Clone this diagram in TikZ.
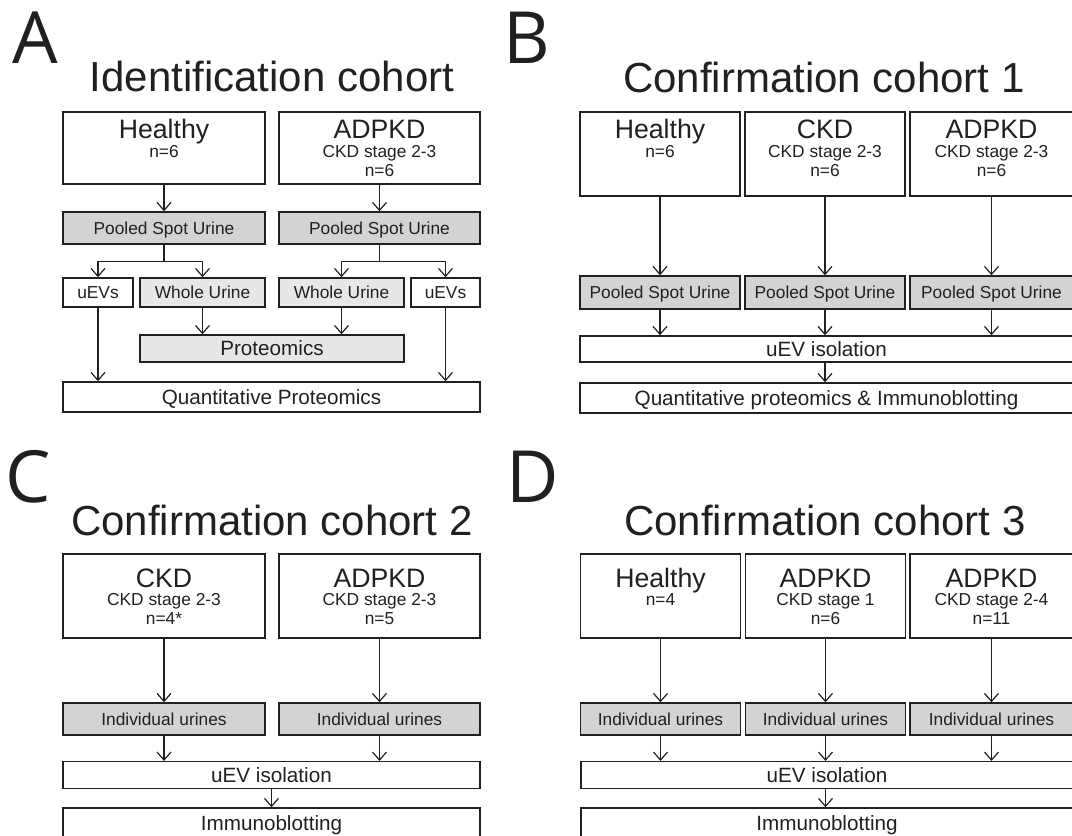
\documentclass[tikz,border=0pt]{standalone}
\usepackage{fontspec}
\setmainfont{Liberation Sans}
\newfontfamily\letterfont{Open Sans}
\usetikzlibrary{arrows.meta}

\definecolor{ink}{HTML}{231F20}
\definecolor{pooledgray}{HTML}{D1D3D4}
\definecolor{wholegray}{HTML}{E6E7E8}
\newcommand{\grouplines}[2]{\begin{tabular}[t]{@{}c@{}}{\fontsize{20}{14}\selectfont #1}\\#2\end{tabular}}

\begin{document}
\begin{tikzpicture}[x=0.75pt,y=-0.75pt,
    box/.style={draw=ink, line width=1.1pt, inner sep=0pt, text=ink,
      font=\fontsize{13}{14}\selectfont, text height=9.3pt, text depth=0pt},
    darkbox/.style={box, fill=pooledgray},
    lightbox/.style={box, fill=wholegray},
    bigtxt/.style={font=\fontsize{15.5}{18}\selectfont, text height=11.1pt},
    headtxt/.style={anchor=base, inner sep=0pt, text=ink,
      font=\fontsize{13}{14}\selectfont},
    title/.style={anchor=base, inner sep=0pt, text=ink,
      font=\fontsize{31.5}{36}\selectfont},
    panel/.style={anchor=base west, inner sep=0pt, text=ink,
      font=\letterfont\fontsize{54}{60}\selectfont},
    arr/.style={draw=ink, line width=0.9pt, -{Straight Barb[length=6pt,width=10.5pt]}},
    line/.style={draw=ink, line width=0.9pt}]

    \useasboundingbox (0,0) rectangle (1072,836);
    \clip (0,0) rectangle (1072,836);

    %panel A
    \node[panel] (lA) at (12,63) {A};
    \node[title] (tA) at (272,91) {Identification cohort};

    \node[box, minimum width=151.5pt, minimum height=54pt] (hA) at (164,148) {};
    \node[box, minimum width=150.75pt, minimum height=54pt] (aA) at (379.5,148) {};
    \node[headtxt] (hAt) at ([yshift=-20.6pt]hA.north) {\grouplines{Healthy}{n=6}};
    \node[headtxt] (aAt) at ([yshift=-20.6pt]aA.north) {\grouplines{ADPKD}{CKD stage 2-3\\n=6}};

    \node[darkbox, minimum width=151.5pt, minimum height=24pt] (psA1) at (164,228) {Pooled Spot Urine};
    \node[darkbox, minimum width=150.75pt, minimum height=24pt] (psA2) at (379.5,228) {Pooled Spot Urine};

    \node[box, minimum width=52.5pt, minimum height=21.75pt] (evA1) at (98,292.5) {uEVs};
    \node[lightbox, minimum width=93.75pt, minimum height=21.75pt] (wuA1) at (202.5,292.5) {Whole Urine};
    \node[lightbox, minimum width=93.75pt, minimum height=21.75pt] (wuA2) at (341.5,292.5) {Whole Urine};
    \node[box, minimum width=51.75pt, minimum height=21.75pt] (evA2) at (445.5,292.5) {uEVs};

    \node[lightbox, bigtxt, minimum width=198pt, minimum height=20.25pt] (prA) at (272,348.5) {Proteomics};
    \node[box, bigtxt, minimum width=312.75pt, minimum height=22.5pt] (qpA) at (271.5,397) {Quantitative Proteomics};

    \draw[arr] (hA.south) -- (psA1.north);
    \draw[arr] (aA.south) -- (psA2.north);
    \draw[line] (psA1.south) -- ++(0,17) coordinate (sA1);
    \draw[line] (psA2.south) -- ++(0,17) coordinate (sA2);
    \draw[arr] (sA1) -| (evA1.north);
    \draw[arr] (sA1) -| (wuA1.north);
    \draw[arr] (sA2) -| (wuA2.north);
    \draw[arr] (sA2) -| (evA2.north);
    \draw[arr] (wuA1.south) -- (wuA1.south |- prA.north);
    \draw[arr] (wuA2.south) -- (wuA2.south |- prA.north);
    \draw[arr] (evA1.south) -- (evA1.south |- qpA.north);
    \draw[arr] (evA2.south) -- (evA2.south |- qpA.north);

    %panel B
    \node[panel] (lB) at (503,63) {B};
    \node[title] (tB) at (824,92) {Confirmation cohort 1};

    \node[box, minimum width=120pt, minimum height=63pt] (hB) at (660,154) {};
    \node[box, minimum width=120pt, minimum height=63pt] (cB) at (825,154) {};
    \node[box, minimum width=122.25pt, minimum height=63pt] (aB) at (991.5,154) {};
    \node[headtxt] (hBt) at ([yshift=-20.6pt]hB.north) {\grouplines{Healthy}{n=6}};
    \node[headtxt] (cBt) at ([yshift=-20.6pt]cB.north) {\grouplines{CKD}{CKD stage 2-3\\n=6}};
    \node[headtxt] (aBt) at ([yshift=-20.6pt]aB.north) {\grouplines{ADPKD}{CKD stage 2-3\\n=6}};

    \node[darkbox, minimum width=120pt, minimum height=24.75pt] (psB1) at (660,292.5) {Pooled Spot Urine};
    \node[darkbox, minimum width=120pt, minimum height=24.75pt] (psB2) at (825,292.5) {Pooled Spot Urine};
    \node[darkbox, minimum width=122.25pt, minimum height=24.75pt] (psB3) at (991.5,292.5) {Pooled Spot Urine};

    \node[box, bigtxt, minimum width=369.75pt, minimum height=19.5pt] (evB) at (826.5,349) {uEV isolation};
    \node[box, bigtxt, minimum width=369.75pt, minimum height=22.5pt] (qpB) at (826.5,398) {Quantitative proteomics \& Immunoblotting};

    \draw[arr] (hB.south) -- (psB1.north);
    \draw[arr] (cB.south) -- (psB2.north);
    \draw[arr] (aB.south) -- (psB3.north);
    \draw[arr] (psB1.south) -- (psB1.south |- evB.north);
    \draw[arr] (psB2.south) -- (psB2.south |- evB.north);
    \draw[arr] (psB3.south) -- (psB3.south |- evB.north);
    \draw[arr] (psB2 |- evB.south) -- (psB2 |- qpB.north);

    %panel C
    \node[panel] (lC) at (5,502) {C};
    \node[title] (tC) at (272,535) {Confirmation cohort 2};

    \node[box, minimum width=151.5pt, minimum height=63pt] (cC) at (164,596) {};
    \node[box, minimum width=150.75pt, minimum height=63pt] (aC) at (379.5,596) {};
    \node[headtxt] (cCt) at ([yshift=-25.5pt]cC.north) {\grouplines{CKD}{CKD stage 2-3\\n=4*}};
    \node[headtxt] (aCt) at ([yshift=-25.5pt]aC.north) {\grouplines{ADPKD}{CKD stage 2-3\\n=5}};

    \node[darkbox, minimum width=151.5pt, minimum height=24pt] (iuC1) at (164,719) {Individual urines};
    \node[darkbox, minimum width=150.75pt, minimum height=24pt] (iuC2) at (379.5,719) {Individual urines};

    \node[box, bigtxt, minimum width=312.75pt, minimum height=20pt] (evC) at (271.5,775) {uEV isolation};
    \node[box, bigtxt, minimum width=312.75pt, minimum height=22.5pt] (imC) at (271.5,823) {Immunoblotting};

    \draw[arr] (cC.south) -- (iuC1.north);
    \draw[arr] (aC.south) -- (iuC2.north);
    \draw[arr] (iuC1.south) -- (iuC1.south |- evC.north);
    \draw[arr] (iuC2.south) -- (iuC2.south |- evC.north);
    \draw[arr] (evC.south) -- (imC.north);

    %panel D
    \node[panel] (lD) at (506,502) {D};
    \node[title] (tD) at (825,535) {Confirmation cohort 3};

    \node[box, minimum width=120pt, minimum height=63pt] (hD) at (660.5,596) {};
    \node[box, minimum width=120pt, minimum height=63pt] (aD1) at (825.5,596) {};
    \node[box, minimum width=122.25pt, minimum height=63pt] (aD2) at (991.5,596) {};
    \node[headtxt] (hDt) at ([yshift=-25.5pt]hD.north) {\grouplines{Healthy}{n=4}};
    \node[headtxt] (aD1t) at ([yshift=-25.5pt]aD1.north) {\grouplines{ADPKD}{CKD stage 1\\n=6}};
    \node[headtxt] (aD2t) at ([yshift=-25.5pt]aD2.north) {\grouplines{ADPKD}{CKD stage 2-4\\n=11}};

    \node[darkbox, minimum width=120pt, minimum height=24pt] (iuD1) at (660.5,719) {Individual urines};
    \node[darkbox, minimum width=120pt, minimum height=24pt] (iuD2) at (825.5,719) {Individual urines};
    \node[darkbox, minimum width=122.25pt, minimum height=24pt] (iuD3) at (991.5,719) {Individual urines};

    \node[box, bigtxt, minimum width=369pt, minimum height=20pt] (evD) at (827,775) {uEV isolation};
    \node[box, bigtxt, minimum width=369pt, minimum height=22.5pt] (imD) at (827,823) {Immunoblotting};

    \draw[arr] (hD.south) -- (iuD1.north);
    \draw[arr] (aD1.south) -- (iuD2.north);
    \draw[arr] (aD2.south) -- (iuD3.north);
    \draw[arr] (iuD1.south) -- (iuD1.south |- evD.north);
    \draw[arr] (iuD2.south) -- (iuD2.south |- evD.north);
    \draw[arr] (iuD3.south) -- (iuD3.south |- evD.north);
    \draw[arr] (iuD2 |- evD.south) -- (iuD2 |- imD.north);

    \end{tikzpicture}
\end{document}
